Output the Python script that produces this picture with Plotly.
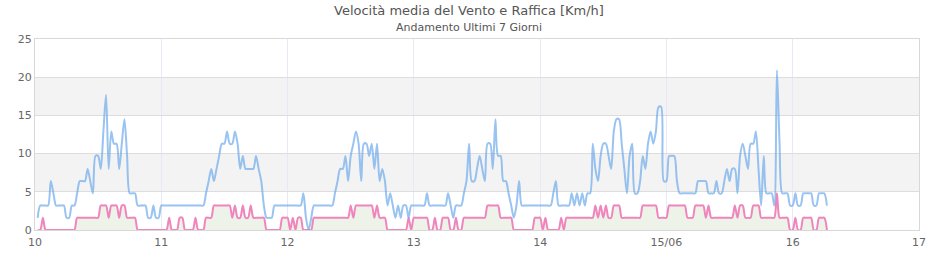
import pandas as pd
import plotly.graph_objects as go

# Half-hourly samples starting 10/06 00:30
start_time = "2024-06-10 00:30"
n_points = 301

gust = [
    1.6, 3.2, 3.2, 3.2, 3.2, 6.4, 4.8, 3.2, 3.2, 3.2,
    3.2, 1.6, 1.6, 3.2, 3.2, 4.8, 6.4, 6.4, 6.4, 8.0,
    6.4, 4.8, 9.7, 9.7, 8.0, 12.9, 17.7, 8.0, 12.9, 11.3,
    11.3, 8.0, 11.3, 14.5, 9.7, 4.8, 4.8, 4.8, 3.2, 3.2,
    3.2, 3.2, 1.6, 1.6, 3.2, 1.6, 1.6, 3.2, 3.2, 3.2,
    3.2, 3.2, 3.2, 3.2, 3.2, 3.2, 3.2, 3.2, 3.2, 3.2,
    3.2, 3.2, 3.2, 3.2, 4.8, 6.4, 8.0, 6.4, 8.0, 9.7,
    11.3, 11.3, 12.9, 11.3, 11.3, 12.9, 11.3, 8.0, 9.7, 8.0,
    8.0, 8.0, 8.0, 9.7, 8.0, 6.4, 3.2, 1.6, 1.6, 1.6,
    3.2, 3.2, 3.2, 3.2, 3.2, 3.2, 3.2, 3.2, 3.2, 3.2,
    3.2, 4.8, 1.6, 0.0, 1.6, 3.2, 3.2, 3.2, 3.2, 3.2,
    3.2, 3.2, 3.2, 4.8, 6.4, 8.0, 8.0, 9.7, 6.4, 9.7,
    11.3, 12.9, 11.3, 6.4, 11.3, 11.3, 9.7, 11.3, 8.0, 11.3,
    6.4, 8.0, 6.4, 3.2, 4.8, 3.2, 1.6, 3.2, 1.6, 3.2,
    3.2, 1.6, 3.2, 3.2, 3.2, 3.2, 3.2, 3.2, 4.8, 3.2,
    3.2, 3.2, 3.2, 3.2, 3.2, 3.2, 4.8, 3.2, 1.6, 3.2,
    3.2, 3.2, 4.8, 6.4, 11.3, 6.4, 6.4, 8.0, 9.7, 8.0,
    6.4, 11.3, 11.3, 8.0, 14.5, 9.7, 9.7, 6.4, 6.4, 4.8,
    3.2, 1.6, 3.2, 6.4, 3.2, 3.2, 3.2, 3.2, 3.2, 3.2,
    3.2, 3.2, 3.2, 3.2, 3.2, 3.2, 4.8, 6.4, 3.2, 3.2,
    3.2, 3.2, 3.2, 4.8, 3.2, 4.8, 3.2, 4.8, 3.2, 4.8,
    4.8, 11.3, 8.0, 6.4, 9.7, 11.3, 11.3, 9.7, 8.0, 12.9,
    14.5, 14.5, 11.3, 8.0, 4.8, 9.7, 11.3, 4.8, 4.8, 6.4,
    9.7, 8.0, 11.3, 12.9, 11.3, 12.9, 16.1, 16.1, 6.4, 6.4,
    9.7, 9.7, 9.7, 6.4, 4.8, 4.8, 4.8, 4.8, 4.8, 4.8,
    4.8, 6.4, 6.4, 6.4, 6.4, 4.8, 4.8, 4.8, 6.4, 4.8,
    4.8, 6.4, 8.0, 6.4, 8.0, 8.0, 4.8, 9.7, 11.3, 9.7,
    8.0, 11.3, 11.3, 12.9, 8.0, 3.2, 9.7, 4.8, 4.8, 4.8,
    3.2, 20.9, 11.3, 4.8, 4.8, 4.8, 3.2, 3.2, 4.8, 3.2,
    3.2, 4.8, 4.8, 4.8, 4.8, 3.2, 3.2, 4.8, 4.8, 4.8,
    3.2,
]

wind = [
    0, 0, 1.6, 0, 0, 0, 0, 0, 0, 0,
    0, 0, 0, 0, 0, 1.6, 1.6, 1.6, 1.6, 1.6,
    1.6, 1.6, 1.6, 1.6, 3.2, 3.2, 3.2, 1.6, 3.2, 3.2,
    3.2, 1.6, 3.2, 3.2, 1.6, 1.6, 1.6, 1.6, 0, 0,
    0, 0, 0, 0, 0, 0, 0, 0, 0, 0,
    1.6, 0, 0, 0, 1.6, 1.6, 0, 0, 0, 0,
    1.6, 0, 0, 0, 1.6, 1.6, 1.6, 3.2, 3.2, 3.2,
    3.2, 3.2, 3.2, 3.2, 1.6, 3.2, 1.6, 1.6, 3.2, 1.6,
    1.6, 3.2, 1.6, 1.6, 1.6, 1.6, 1.6, 0, 0, 0,
    0, 0, 0, 1.6, 1.6, 1.6, 0, 1.6, 0, 1.6,
    1.6, 0, 0, 0, 0, 1.6, 1.6, 1.6, 1.6, 1.6,
    1.6, 1.6, 1.6, 1.6, 1.6, 1.6, 1.6, 1.6, 1.6, 3.2,
    1.6, 3.2, 3.2, 3.2, 3.2, 3.2, 3.2, 3.2, 1.6, 3.2,
    1.6, 1.6, 1.6, 0, 0, 0, 0, 0, 0, 0,
    0, 1.6, 0, 1.6, 1.6, 1.6, 1.6, 1.6, 1.6, 0,
    0, 1.6, 0, 0, 1.6, 1.6, 1.6, 0, 0, 1.6,
    0, 0, 1.6, 1.6, 1.6, 1.6, 1.6, 1.6, 1.6, 1.6,
    1.6, 3.2, 3.2, 3.2, 3.2, 3.2, 1.6, 1.6, 1.6, 1.6,
    1.6, 0, 0, 0, 0, 0, 0, 0, 0, 1.6,
    1.6, 1.6, 0, 1.6, 0, 0, 0, 0, 0, 1.6,
    0, 1.6, 1.6, 1.6, 1.6, 1.6, 1.6, 1.6, 1.6, 1.6,
    1.6, 1.6, 3.2, 1.6, 3.2, 1.6, 3.2, 1.6, 1.6, 3.2,
    3.2, 3.2, 1.6, 1.6, 1.6, 1.6, 1.6, 1.6, 1.6, 1.6,
    3.2, 3.2, 3.2, 3.2, 3.2, 3.2, 1.6, 1.6, 1.6, 1.6,
    3.2, 3.2, 3.2, 3.2, 3.2, 3.2, 3.2, 1.6, 1.6, 1.6,
    3.2, 3.2, 3.2, 3.2, 1.6, 3.2, 1.6, 1.6, 1.6, 1.6,
    1.6, 1.6, 1.6, 1.6, 1.6, 3.2, 1.6, 3.2, 3.2, 1.6,
    1.6, 1.6, 3.2, 3.2, 3.2, 1.6, 1.6, 1.6, 1.6, 1.6,
    1.6, 4.8, 1.6, 1.6, 1.6, 1.6, 0, 0, 1.6, 0,
    0, 1.6, 1.6, 1.6, 1.6, 0, 0, 1.6, 1.6, 1.6,
    0,
]

tick_dates = ["2024-06-10", "2024-06-11", "2024-06-12", "2024-06-13",
              "2024-06-14", "2024-06-15", "2024-06-16", "2024-06-17"]
tick_labels = ["10", "11", "12", "13", "14", "15/06", "16", "17"]
y_ticks = [0, 5, 10, 15, 20, 25]
band_ranges = [(5, 10), (15, 20)]

times = pd.date_range(start=start_time, periods=n_points, freq="30min")

FONT = "DejaVu Sans"

fig = go.Figure()
fig.add_trace(go.Scatter(
    x=times, y=wind, mode="lines", name="Velocità media",
    line=dict(color="#ef85bc", width=2, shape="spline", smoothing=0.8),
    fill="tozeroy", fillcolor="rgba(236,242,232,0.9)",
))
fig.add_trace(go.Scatter(
    x=times, y=gust, mode="lines", name="Raffica",
    line=dict(color="rgba(110,170,235,0.7)", width=2, shape="spline", smoothing=0.8),
))

for lo, hi in band_ranges:
    fig.add_shape(type="rect", xref="paper", yref="y", x0=0, x1=1, y0=lo, y1=hi,
                  fillcolor="#f3f3f3", line=dict(width=0), layer="below")

fig.add_annotation(text="Velocità media del Vento e Raffica [Km/h]", xref="paper", yref="paper",
                   x=0.491, y=1.1466, showarrow=False, xanchor="center", yanchor="middle",
                   font=dict(family=FONT, size=13, color="#555555"))
fig.add_annotation(text="Andamento Ultimi 7 Giorni", xref="paper", yref="paper",
                   x=0.491, y=1.0628, showarrow=False, xanchor="center", yanchor="middle",
                   font=dict(family=FONT, size=11, color="#555555"))

fig.update_layout(
    width=940, height=260,
    margin=dict(l=35, r=21, t=39, b=30),
    paper_bgcolor="white", plot_bgcolor="white",
    showlegend=False,
    font=dict(family=FONT, size=11, color="#666666"),
    xaxis=dict(type="date", range=["2024-06-10", "2024-06-17"],
               tickvals=tick_dates, ticktext=tick_labels,
               showgrid=True, gridcolor="#e8e8f6", gridwidth=1,
               showline=True, mirror=True, linecolor="#d8d8d8", linewidth=1,
               ticks="", ticklabelstandoff=2, zeroline=False, automargin=False,
               tickfont=dict(size=11, color="#666666")),
    yaxis=dict(range=[0, 25], tickvals=y_ticks,
               showgrid=True, gridcolor="#dddddd", gridwidth=1,
               showline=True, mirror=True, linecolor="#d8d8d8", linewidth=1,
               ticks="", zeroline=False, automargin=False,
               tickfont=dict(size=11, color="#666666")),
)

fig.write_html("out.html")
